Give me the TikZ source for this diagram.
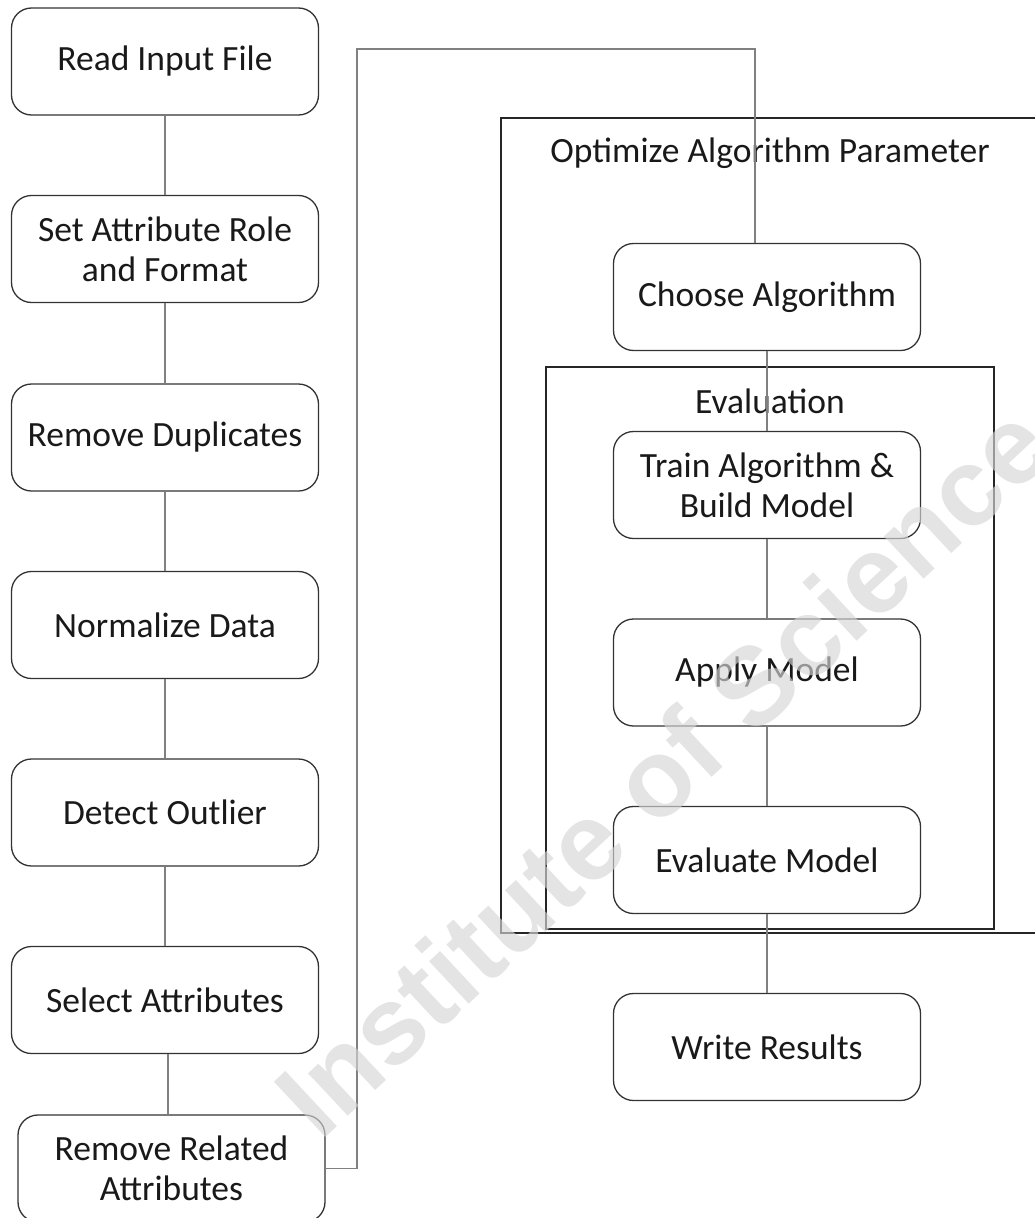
\documentclass[tikz,border=0pt]{standalone}
\usepackage{fontspec}
\setmainfont{Carlito}
\newfontfamily\wmfont{Liberation Sans}
\begin{document}
\begin{tikzpicture}[
  x=1pt, y=-1pt,
  stepbox/.style={draw=black!80, line width=1.3pt, fill=white, rounded corners=20pt,
    minimum width=307pt, minimum height=107pt, inner sep=0pt, align=center,
    text=black!90, font=\fontsize{35.5}{40}\selectfont},
  framebox/.style={draw=black!85, line width=2.4pt, inner sep=0pt},
  caption/.style={inner sep=0pt, text=black!90, font=\fontsize{35.5}{40}\selectfont},
  link/.style={draw=black!50, line width=1.1pt},
  wm/.style={inner sep=0pt, text=black!16, text opacity=0.65,
    font=\wmfont\bfseries\fontsize{110}{110}\selectfont}
]
\useasboundingbox (0,0) rectangle (1035,1218);

% nested frames of the optimisation loop
\node[framebox, minimum width=544pt, minimum height=815pt] (optframe) at (773,525.5) {};
\node[framebox, minimum width=448pt, minimum height=562pt] (evalframe) at (770,648) {};
\node[caption] (optlabel) at (770,153) {Optimize Algorithm Parameter};
\node[caption] (evallabel) at (770,401) {Evaluation};

% preprocessing chain
\node[stepbox] (read)   at (165,61.5)  {Read Input File};
\node[stepbox] (role)   at (165,249)   {Set Attribute Role\\and Format};
\node[stepbox] (dup)    at (165,437.5) {Remove Duplicates};
\node[stepbox] (norm)   at (165,625)   {Normalize Data};
\node[stepbox] (outl)   at (165,812.5) {Detect Outlier};
\node[stepbox] (sel)    at (165,1000)  {Select Attributes};
\node[stepbox] (rel)    at (171.5,1168.5) {Remove Related\\Attributes};

% modelling chain
\node[stepbox] (choose) at (767,297)   {Choose Algorithm};
\node[stepbox] (train)  at (767,485)   {Train Algorithm \&\\Build Model};
\node[stepbox] (apply)  at (767,672.5) {Apply Model};
\node[stepbox] (evalm)  at (767,860)   {Evaluate Model};
\node[stepbox] (write)  at (767,1047)  {Write Results};

% connectors
\draw[link] (read) -- (role);
\draw[link] (role) -- (dup);
\draw[link] (dup) -- (norm);
\draw[link] (norm) -- (outl);
\draw[link] (outl) -- (sel);
\draw[link] ([xshift=3pt]sel.south) -- ([xshift=3pt]sel.south |- rel.north);

\coordinate (loopcorner) at (357,49);
\coordinate (looptop) at (755,49);
\draw[link] (rel.east) -| (loopcorner) -- (looptop) -- (looptop |- choose.north);

\draw[link] (choose) -- (train);
\draw[link] (train) -- (apply);
\draw[link] (apply) -- (evalm);
\draw[link] (evalm) -- (write);

% publisher watermark
\node[wm, rotate=43] (wmark) at (662,770) {Institute of Science};
\end{tikzpicture}
\end{document}
